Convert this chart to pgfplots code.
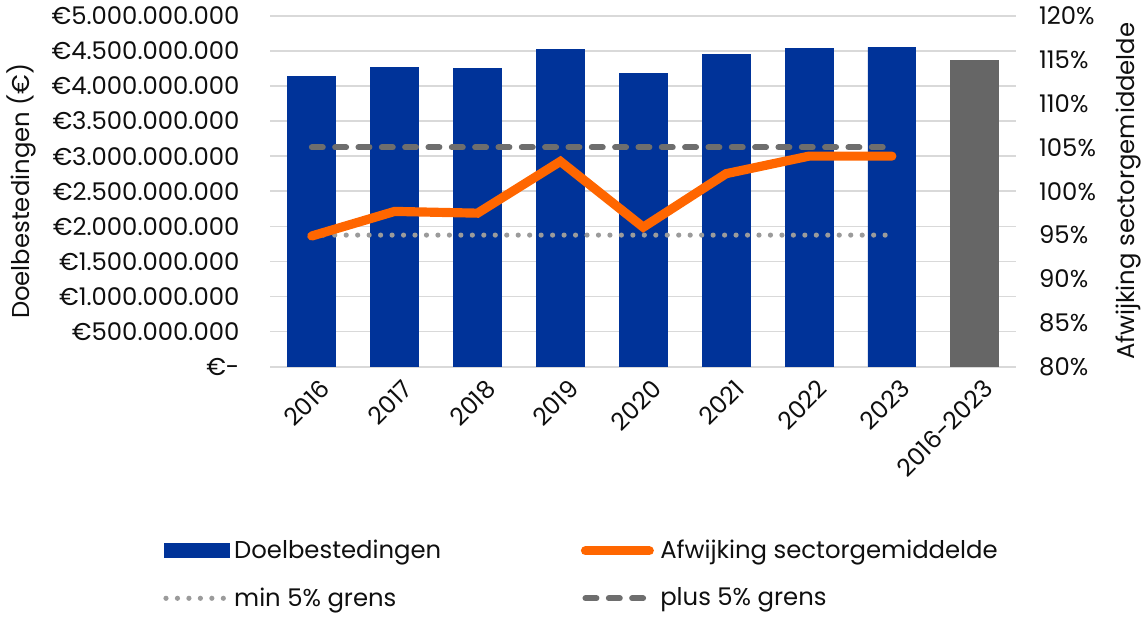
\documentclass[border=0pt]{standalone}
\usepackage{pgfplots}
\pgfplotsset{compat=1.18}
\usepackage{fontspec}
\setmainfont{Poppins}
\definecolor{barblue}{RGB}{0,51,153}
\definecolor{bargray}{RGB}{102,102,102}
\definecolor{lineorange}{RGB}{255,102,0}
\definecolor{dashgray}{RGB}{110,110,110}
\definecolor{dotgray}{RGB}{155,155,155}
\definecolor{gridgray}{RGB}{217,217,217}
\definecolor{ink}{RGB}{15,15,15}
\newcommand{\chartfont}{\fontsize{12.2pt}{14pt}\selectfont}

% Doelbestedingen in miljard euro
\pgfplotstableread{
x  val
0  4.13
1  4.26
2  4.25
3  4.52
4  4.18
5  4.45
6  4.53
7  4.55
}\yearbars
\pgfplotstableread{
x  val
8  4.36
}\totalbar
\pgfplotstableread{
x  pct   lo  hi
0  94.9  95  105
1  97.7  95  105
2  97.5  95  105
3  103.4 95  105
4  95.9  95  105
5  102.0 95  105
6  104.0 95  105
7  104.0 95  105
}\pcttab

\tikzset{
  dotline/.style={dotgray,line width=2.6pt,line cap=round,dash pattern=on 0pt off 5.75pt},
  dashline/.style={dashgray,line width=3pt,line cap=round,dash pattern=on 5.5pt off 6.2pt},
  orangeline/.style={lineorange,line width=4.6pt,line join=miter,line cap=round},
}
\pgfplotsset{
  chartbase/.style={scale only axis,width=374pt,height=176pt,xmin=-0.5,xmax=8.5,
    tick label style={font=\chartfont,text=ink},label style={font=\chartfont,text=ink},
    axis line style={draw=none},major tick length=0pt},
}

\begin{document}
\begin{tikzpicture}
\begin{axis}[chartbase,
  ymin=0,ymax=5,
  ytick={0,0.5,1,1.5,2,2.5,3,3.5,4,4.5,5},
  yticklabels={€-,€500.000.000,€1.000.000.000,€1.500.000.000,€2.000.000.000,€2.500.000.000,€3.000.000.000,€3.500.000.000,€4.000.000.000,€4.500.000.000,€5.000.000.000},
  ymajorgrids,major grid style={gridgray,line width=0.8pt},
  yticklabel style={xshift=-12pt},
  xtick={0,...,8},
  xticklabels={2016,2017,2018,2019,2020,2021,2022,2023,2016-2023},
  xticklabel style={rotate=45,anchor=north east,xshift=2pt,yshift=-3pt},
  ylabel={Doelbestedingen (€)},
  ylabel style={at={(axis description cs:-0.334,0.5)},anchor=center},
  ybar,bar width=24pt,
]
\addplot[fill=barblue,draw=barblue,bar shift=0pt] table[x=x,y=val]{\yearbars};
\addplot[fill=bargray,draw=bargray,bar shift=0pt] table[x=x,y=val]{\totalbar};
\end{axis}
\begin{axis}[chartbase,
  axis y line*=right,axis x line=none,
  ymin=80,ymax=120,
  ytick={80,85,...,120},
  yticklabels={80\%,85\%,90\%,95\%,100\%,105\%,110\%,115\%,120\%},
  yticklabel style={xshift=8pt},
  ylabel={Afwijking sectorgemiddelde},
  ylabel style={at={(axis description cs:1.151,0.5)},anchor=center},
  legend columns=2,
  legend cell align=left,
  legend style={draw=none,fill=none,at={(-0.152,-0.47)},anchor=north west,
    font=\chartfont,text=ink,row sep=9pt,
    /tikz/every even column/.append style={column sep=68pt}},
]
\addlegendimage{legend image code/.code={\fill[barblue] (0pt,-3.5pt) rectangle (33pt,3.5pt);}}
\addlegendentry{Doelbestedingen}
\addlegendimage{legend image code/.code={\draw[orangeline] (2pt,0pt) -- (34pt,0pt);}}
\addlegendentry{Afwijking sectorgemiddelde}
\addlegendimage{legend image code/.code={\draw[dotline] (1pt,0pt) -- (31pt,0pt);}}
\addlegendentry{min 5\% grens}
\addlegendimage{legend image code/.code={\draw[dashline] (2pt,0pt) -- (36pt,0pt);}}
\addlegendentry{plus 5\% grens}
\addplot[dotline,forget plot] table[x=x,y=lo]{\pcttab};
\addplot[dashline,forget plot] table[x=x,y=hi]{\pcttab};
\addplot[orangeline,forget plot] table[x=x,y=pct]{\pcttab};
\end{axis}
\end{tikzpicture}
\end{document}
